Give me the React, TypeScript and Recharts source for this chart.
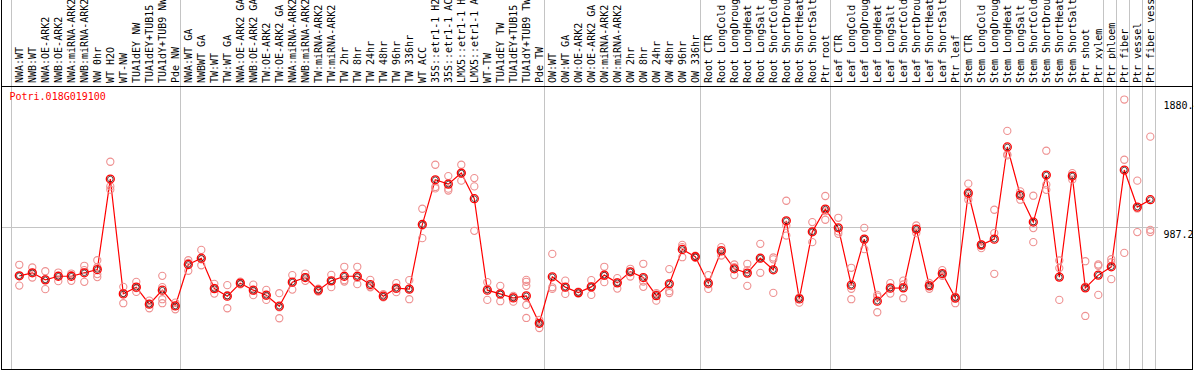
import { ComposedChart, Line, Scatter, XAxis, YAxis, ReferenceLine } from "recharts";

const labels = [
  "NWA:WT", "NWB:WT", "NWA:OE-ARK2", "NWB:OE-ARK2", "NWA:miRNA-ARK2", "NWB:miRNA-ARK2",
  "NW 0hr", "WT H2O", "WT-NW", "TUA1dEY NW", "TUA1dEY+TUB15", "TUA1dY+TUB9 NW", "Pde NW",
  "NWA:WT GA", "NWBWT GA", "TW:WT", "TW:WT GA", "NWA:OE-ARK2 GA", "NWB:OE-ARK2 GA",
  "TW:OE-ARK2", "TW:OE-ARK2 GA", "NWA:miRNA-ARK2", "NWB:miRNA-ARK2", "TW:miRNA-ARK2",
  "TW:miRNA-ARK2", "TW 2hr", "TW 8hr", "TW 24hr", "TW 48hr", "TW 96hr", "TW 336hr",
  "WT ACC", "35S::etr1-1 H2O", "35S::etr1-1 ACC", "LMX5::etr1-1 H2O", "LMX5::etr1-1 ACC",
  "WT-TW", "TUA1dEY TW", "TUA1dEY+TUB15", "TUA1dY+TUB9 TW", "Pde TW",
  "OW:WT", "OW:WT GA", "OW:OE-ARK2", "OW:OE-ARK2 GA", "OW:miRNA-ARK2", "OW:miRNA-ARK2",
  "OW 2hr", "OW 8hr", "OW 24hr", "OW 48hr", "OW 96hr", "OW 336hr",
  "Root CTR", "Root LongCold", "Root LongDrought", "Root LongHeat", "Root LongSalt",
  "Root ShortCold", "Root ShortDrought", "Root ShortHeat", "Root ShortSalt", "Ptr root",
  "Leaf CTR", "Leaf LongCold", "Leaf LongDrought", "Leaf LongHeat", "Leaf LongSalt",
  "Leaf ShortCold", "Leaf ShortDrought", "Leaf ShortHeat", "Leaf ShortSalt", "Ptr leaf",
  "Stem CTR", "Stem LongCold", "Stem LongDrought", "Stem LongHeat", "Stem LongSalt",
  "Stem ShortCold", "Stem ShortDrought", "Stem ShortHeat", "Stem ShortSalt",
  "Ptr shoot", "Ptr xylem", "Ptr phloem", "Ptr fiber", "Ptr vessel", "Ptr fiber vessel",
];

// group separators (index of first category in each group)
const groupStarts = [0, 13, 41, 53, 63, 73, 84, 85, 86, 87, 88];

const means = [
  650, 671, 622, 647, 647, 671, 694, 1325, 524, 571, 452, 550, 440,
  729, 773, 561, 508, 599, 550, 515, 438, 606, 638, 550, 615, 647, 647, 589, 508, 564, 557,
  1008, 1320, 1290, 1367, 1188, 550, 524, 496, 510, 319,
  643, 571, 533, 573, 655, 601, 678, 638, 512, 594, 834, 783,
  599, 824, 699, 669, 773, 692, 1034, 489, 957, 1116,
  985, 585, 906, 473, 564, 566, 976, 580, 666, 496,
  1228, 866, 906, 1549, 1213, 1025, 1353, 641, 1346, 566, 655,
  713, 1388, 1130, 1181,
];

const replicates = [
  [727, 582, 650], [708, 638, 671], [682, 557, 625], [673, 613, 650], [666, 615, 655],
  [720, 608, 690], [759, 662, 641, 710], [1446, 1274, 1251], [573, 459, 530], [608, 538, 565],
  [477, 424, 455], [650, 571, 487, 459], [463, 417, 440],
  [759, 685, 740], [831, 724, 765], [594, 526, 565], [585, 424, 515], [610, 590, 599],
  [589, 515, 548], [552, 482, 512], [529, 354, 430], [655, 554, 606], [666, 615, 640],
  [560, 540, 550], [657, 571, 615], [713, 610, 620], [713, 592, 636], [622, 575, 570],
  [522, 500, 505], [599, 536, 560], [620, 487, 560], [1118, 913, 1000], [1425, 1270, 1260],
  [1346, 1258, 1245], [1425, 1314, 1367], [1332, 1274, 964], [606, 482, 560], [580, 473, 520],
  [510, 470, 500], [622, 608, 580, 447, 356], [342, 286, 319],
  [803, 559, 570], [617, 524, 571], [540, 526, 533], [620, 517, 575], [713, 606, 650],
  [634, 561, 605], [699, 645, 680], [734, 573, 610], [520, 477, 530], [697, 543, 530],
  [866, 780, 850], [790, 775, 785],
  [655, 559, 590], [850, 792, 830], [729, 655, 710], [734, 580, 690], [873, 671, 773],
  [778, 531, 765], [1174, 931, 1000], [500, 463, 495], [1025, 885, 957], [1207, 1041, 1100],
  [1055, 943, 960], [706, 487, 560], [985, 836, 900], [517, 396, 505], [599, 526, 570],
  [617, 494, 590], [1001, 948, 980], [600, 560, 585], [690, 650, 660], [505, 459, 490],
  [1293, 1181, 1210], [843, 870, 860], [1111, 948, 664], [1661, 1497, 1490], [1239, 1181, 1220],
  [1209, 983, 885], [1523, 1286, 1250], [757, 704, 482], [1367, 1321, 1350], [752, 370, 575],
  [729, 517, 720], [766, 627, 745], [1880, 1460, 810], [1314, 955, 1120], [1621, 971, 955],
];

const yTicks = [0, 987.2, 1880.4];
const yMax = 1974.4;
const geneId = "Potri.018G019100";

const POS = 0.6; // point position inside a category slot
const FONT = "'DejaVu Sans Mono', monospace";

const lineData = means.map((m, i) => ({ x: i + POS, mean: m }));
const repData = replicates.flatMap((r, i) => r.map((v) => ({ x: i + POS, v })));
const centerTicks = labels.map((_, i) => i + POS);
const allTicks = [...groupStarts, ...centerTicks].sort((a, b) => a - b);

const LabelTick = (props: any) => {
  const { x, y, payload } = props;
  const v = payload.value;
  if (Math.abs(v - Math.round(v)) < 0.01) {
    return <line x1={x} x2={x} y1={0} y2={y + 3} stroke="#c4c4c4" />;
  }
  const idx = Math.round(v - POS);
  return (
    <text
      transform={`translate(${x + 3.5},${y}) rotate(-90)`}
      fontFamily={FONT}
      fontSize={10}
      fill="#000"
      textAnchor="start"
    >
      {labels[idx]}
    </text>
  );
};

const ValueTick = (props: any) => {
  const { x, y, payload } = props;
  return (
    <text x={x} y={payload.value === 0 ? y - 3 : y + 10} fontFamily={FONT} fontSize={10} fill="#000" textAnchor="start">
      {String(payload.value)}
    </text>
  );
};

const MeanDot = (props: any) => {
  const { cx, cy, index } = props;
  return (
    <g key={`m${index}`}>
      <circle cx={cx} cy={cy} r={4} fill="none" stroke="#ff0000" strokeWidth={1.3} />
      <circle cx={cx} cy={cy} r={2.8} fill="none" stroke="#200000" strokeWidth={0.7} />
    </g>
  );
};

const RepDot = (props: any) => (
  <circle cx={props.cx} cy={props.cy} r={3.6} fill="none" stroke="#ee9090" strokeWidth={1.1} />
);

export default function App() {
  return (
    <div style={{ position: "absolute", left: 0, top: 0, width: 1194, height: 370, background: "#fff" }}>
      <ComposedChart width={1194} height={370} data={lineData} margin={{ top: 0, right: 0, bottom: 1, left: 11.5 }}>
        <XAxis
          orientation="top"
          type="number"
          dataKey="x"
          domain={[0, labels.length]}
          ticks={allTicks}
          interval={0}
          height={86}
          axisLine={false}
          tickLine={false}
          tickSize={0}
          tickMargin={3}
          tick={LabelTick}
          allowDataOverflow
        />
        <YAxis
          orientation="right"
          type="number"
          domain={[0, yMax]}
          ticks={yTicks}
          width={38.5}
          axisLine={false}
          tickLine={false}
          tickSize={0}
          tickMargin={8}
          tick={ValueTick}
          allowDataOverflow
        />
        {groupStarts.map((g) => (
          <ReferenceLine key={g} x={g} stroke="#c4c4c4" strokeWidth={1} />
        ))}
        <ReferenceLine
          segment={[{ x: -0.73, y: yTicks[1] }, { x: labels.length + 0.2, y: yTicks[1] }]}
          stroke="#c4c4c4"
          ifOverflow="visible"
        />
        <Scatter data={repData} dataKey="v" shape={RepDot} isAnimationActive={false} />
        <Line
          dataKey="mean"
          stroke="#ff0000"
          strokeWidth={1.2}
          dot={MeanDot}
          activeDot={false}
          isAnimationActive={false}
        />
      </ComposedChart>
      <svg width={1194} height={370} style={{ position: "absolute", left: 0, top: 0, pointerEvents: "none" }}>
        <text x={9.5} y={100} fontFamily={FONT} fontSize={10} fill="#ff0000">{geneId}</text>
        <line x1={1} x2={1193} y1={86.5} y2={86.5} stroke="#000" />
        <line x1={1.5} x2={1.5} y1={0} y2={370} stroke="#000" />
        <line x1={1192.5} x2={1192.5} y1={0} y2={370} stroke="#000" />
        <line x1={1} x2={1193} y1={369.5} y2={369.5} stroke="#000" />
      </svg>
    </div>
  );
}
